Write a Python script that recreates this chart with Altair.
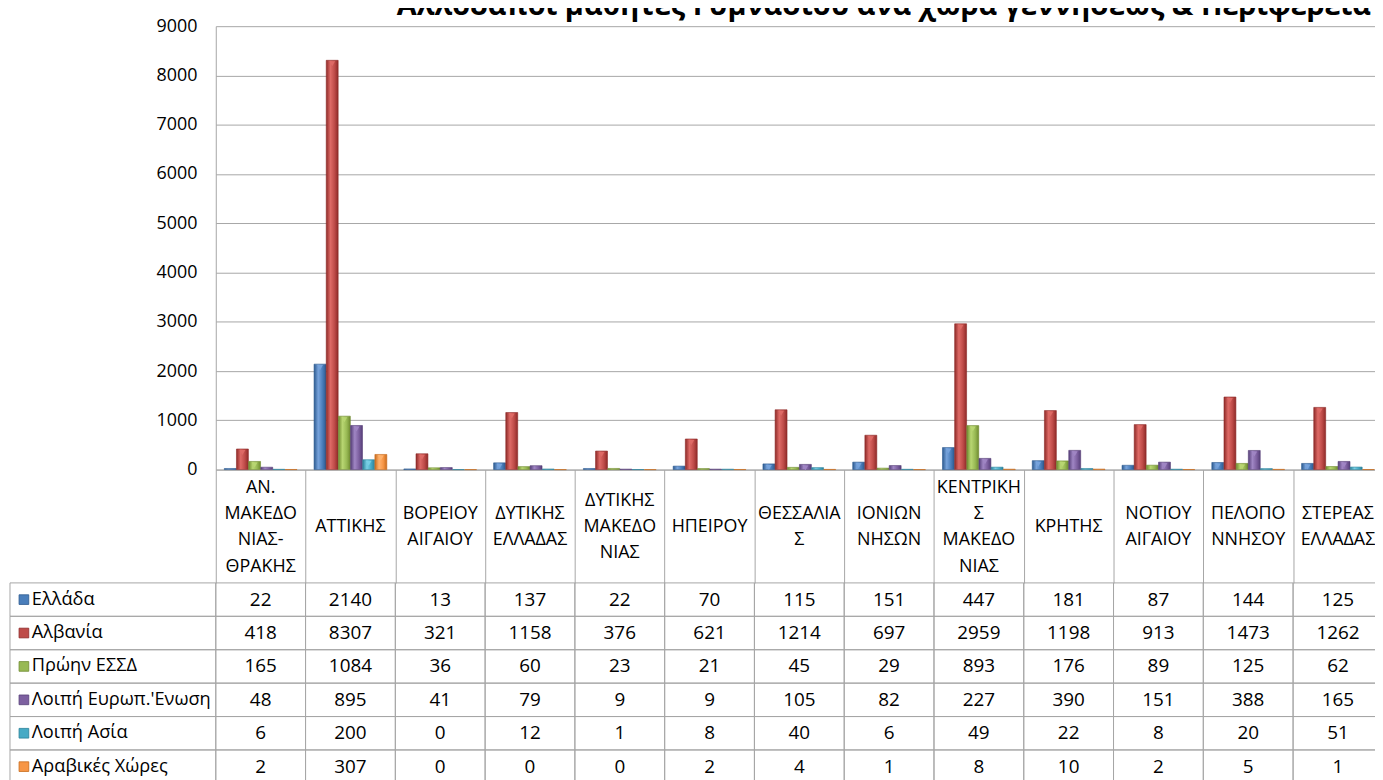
import altair as alt
import pandas as pd

regions = ["ΑΝ.|ΜΑΚΕΔΟ|ΝΙΑΣ-|ΘΡΑΚΗΣ", "ΑΤΤΙΚΗΣ", "ΒΟΡΕΙΟΥ|ΑΙΓΑΙΟΥ", "ΔΥΤΙΚΗΣ|ΕΛΛΑΔΑΣ",
           "ΔΥΤΙΚΗΣ|ΜΑΚΕΔΟ|ΝΙΑΣ", "ΗΠΕΙΡΟΥ", "ΘΕΣΣΑΛΙΑ|Σ", "ΙΟΝΙΩΝ|ΝΗΣΩΝ",
           "ΚΕΝΤΡΙΚΗ|Σ|ΜΑΚΕΔΟ|ΝΙΑΣ", "ΚΡΗΤΗΣ", "ΝΟΤΙΟΥ|ΑΙΓΑΙΟΥ", "ΠΕΛΟΠΟ|ΝΝΗΣΟΥ", "ΣΤΕΡΕΑΣ|ΕΛΛΑΔΑΣ"]

series = ["Ελλάδα", "Αλβανία", "Πρώην  ΕΣΣΔ", "Λοιπή Ευρωπ.'Ενωση", "Λοιπή  Ασία", "Αραβικές  Χώρες"]

greece = [22, 2140, 13, 137, 22, 70, 115, 151, 447, 181, 87, 144, 125]
albania = [418, 8307, 321, 1158, 376, 621, 1214, 697, 2959, 1198, 913, 1473, 1262]
ussr = [165, 1084, 36, 60, 23, 21, 45, 29, 893, 176, 89, 125, 62]
eu = [48, 895, 41, 79, 9, 9, 105, 82, 227, 390, 151, 388, 165]
asia = [6, 200, 0, 12, 1, 8, 40, 6, 49, 22, 8, 20, 51]
arab = [2, 307, 0, 0, 0, 2, 4, 1, 8, 10, 2, 5, 1]

values = [greece, albania, ussr, eu, asia, arab]

base_colors = ["#4A7EBB", "#BE4B48", "#98B954", "#7D60A0", "#46AAC5", "#F79646"]
dark_colors = ["#2C5A8F", "#8E2A28", "#6F8B30", "#563F78", "#2A8199", "#C86B1C"]
light_colors = ["#77A3DC", "#DE6A66", "#B8D672", "#A086C4", "#78CFE5", "#FFB26E"]

title_text = "Αλλοδαποί μαθητές Γυμνασίου ανά χώρα γεννήσεως & Περιφέρεια"

rows = []
for s, vals in zip(series, values):
    for r, v in zip(regions, vals):
        rows.append({"region": r, "series": s, "value": v})
df = pd.DataFrame(rows)

# header lines (one row per text line, centred on the line count)
hrows = []
for r in regions:
    parts = r.split("|")
    n = len(parts)
    for k, p in enumerate(parts):
        hrows.append({"region": r, "line": p, "pos": k - (n - 1) / 2})
hdf = pd.DataFrame(hrows)

FONT = "Open Sans"
GRID = "#a6a6a6"
W = 1166
H = 446
COLW = 90.3
XR = [0, COLW * len(regions)]
HEADER_H = 114
ROW_H = 33.6
LINE = 26.4
HC = H + 58

x_scale = alt.Scale(domain=regions, range=XR, paddingInner=0, paddingOuter=0)
x_axis = alt.Axis(
    title=None, labels=False, ticks=True, tickBand="extent",
    tickSize=HEADER_H, tickColor=GRID, domainColor=GRID,
)
x_enc = alt.X("region:N", scale=x_scale, axis=x_axis, sort=regions)

y_bar = alt.Y(
    "value:Q", scale=alt.Scale(domain=[0, 9000], nice=False),
    axis=alt.Axis(values=list(range(0, 9001, 1000)), format="d", title=None, grid=True,
                  gridColor=GRID, domainColor=GRID, ticks=False, labelFont=FONT,
                  labelFontSize=18, labelPadding=19, labelColor="black"),
)
xoff = alt.XOffset("series:N", scale=alt.Scale(domain=series, paddingOuter=0.7, paddingInner=0.02))

bar_layers = []
for i, s in enumerate(series):
    grad = alt.Gradient(
        gradient="linear", x1=0, x2=1, y1=0, y2=0,
        stops=[alt.GradientStop(color=dark_colors[i], offset=0),
               alt.GradientStop(color=light_colors[i], offset=0.35),
               alt.GradientStop(color=base_colors[i], offset=0.7),
               alt.GradientStop(color=dark_colors[i], offset=1)],
    )
    base = alt.Chart(df).transform_filter(alt.datum.series == s)
    bar_layers.append(
        base.mark_bar(color=grad, stroke=dark_colors[i], strokeWidth=0.6).encode(
            x=x_enc, xOffset=xoff, y=y_bar)
    )
    bar_layers.append(
        base.transform_filter(alt.datum.value >= 100)
        .mark_point(shape="triangle-down", filled=True, size=34, yOffset=3.5,
                    color=light_colors[i], opacity=0.95)
        .encode(x=x_enc, xOffset=xoff, y=y_bar)
    )
bars = alt.layer(*bar_layers)

# header text layer with its own line-position scale
y_hdr = alt.Y("pos:Q", scale=alt.Scale(domain=[-2, 2], range=[HC - 2 * LINE, HC + 2 * LINE],
                                       nice=False, zero=False), axis=None)
header = alt.Chart(hdf).mark_text(font=FONT, fontSize=18, color="black", baseline="middle").encode(
    x=x_enc, y=y_hdr, text="line:N")

y_tab = alt.Y("series:N", sort=series,
              scale=alt.Scale(domain=series, range=[H + HEADER_H, H + HEADER_H + ROW_H * 6],
                              paddingInner=0, paddingOuter=0),
              axis=None)

tab = alt.Chart(df)
cells = tab.mark_rect(fillOpacity=0, stroke=GRID, strokeWidth=1).encode(x=x_enc, y=y_tab)
nums = tab.mark_text(font=FONT, fontSize=19, color="black", baseline="middle").encode(
    x=x_enc, y=y_tab, text="value:Q")

lab_df = pd.DataFrame({"series": series})
lab = alt.Chart(lab_df)
lab_cells = lab.mark_rect(fillOpacity=0, stroke=GRID, strokeWidth=1).encode(
    x=alt.value(-207), x2=alt.value(0), y=y_tab)
lab_sq = lab.mark_square(size=95, x=-193, opacity=1, strokeWidth=0.8).encode(
    y=y_tab,
    color=alt.Color("series:N", scale=alt.Scale(domain=series, range=base_colors), legend=None),
    stroke=alt.Stroke("series:N", scale=alt.Scale(domain=series, range=dark_colors), legend=None),
)
lab_txt = lab.mark_text(font=FONT, fontSize=18.3, color="black", align="left", baseline="middle", x=-185).encode(
    y=y_tab, text="series:N")

table = alt.layer(cells, nums, lab_cells, lab_sq, lab_txt)

# chart title (the reference shows it cut by the top edge)
title_df = pd.DataFrame({"t": [title_text]})
title = alt.Chart(title_df).mark_text(
    font=FONT, fontSize=29, fontWeight="bold", color="black", align="center",
    baseline="alphabetic").encode(x=alt.value(672), y=alt.value(-11), text="t:N")

chart = (
    alt.layer(bars, header, table, title)
    .resolve_scale(y="independent")
    .properties(
        width=W, height=H,
        autosize=alt.AutoSizeParams(type="none"),
        padding={"left": 209, "top": 16, "right": 0, "bottom": 318},
    )
    .configure_view(stroke=None)
)

chart.save("out.html", embed_options={"renderer": "svg", "actions": False})
